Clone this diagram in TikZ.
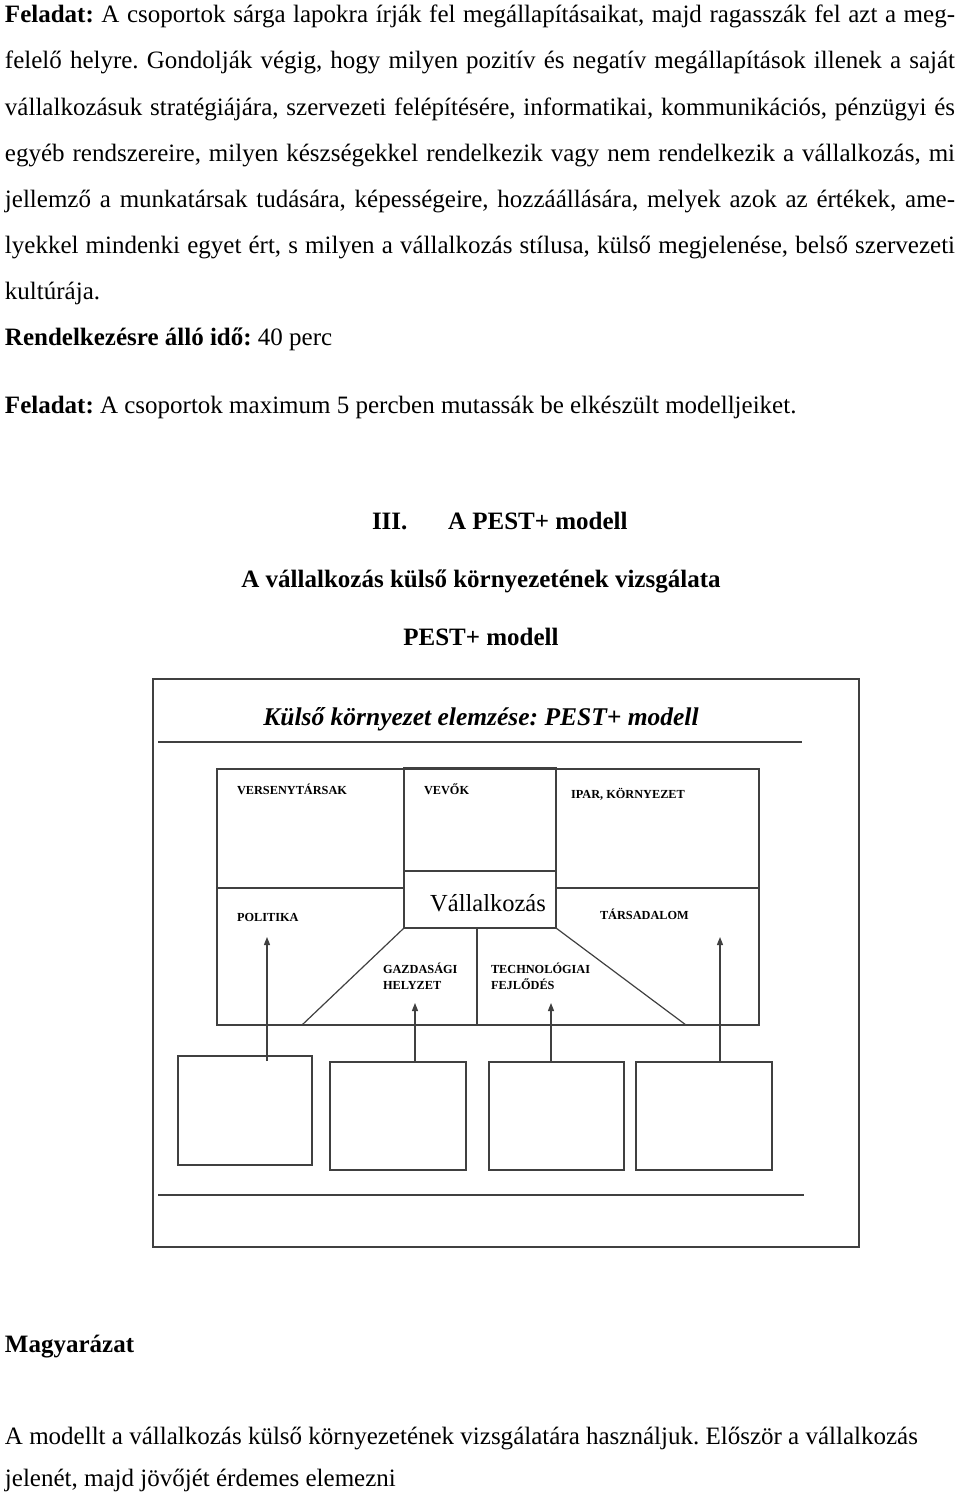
\documentclass[tikz,border=0pt]{standalone}
\usepackage{fontspec}
\setmainfont{Liberation Serif}
\usetikzlibrary{arrows.meta}
\frenchspacing
\tikzset{
  txt/.style={anchor=base west, inner sep=0pt, outer sep=0pt, font=\fontsize{25}{29}\selectfont},
  ctr/.style={anchor=base, inner sep=0pt, outer sep=0pt, font=\fontsize{25}{29}\selectfont\bfseries},
  lbl/.style={anchor=base west, inner sep=0pt, outer sep=0pt, font=\fontsize{12.3}{14}\selectfont\bfseries},
  ln/.style={draw=black!75, line width=1.2pt},
  cell/.style={ln, inner sep=0pt, outer sep=0pt, anchor=north west},
  arr/.style={ln, -{Triangle[length=8pt,width=6pt]}},
}
\newcommand{\jl}[1]{\makebox[950pt][s]{#1}}
\begin{document}
\begin{tikzpicture}[x=1pt,y=-1pt]
\useasboundingbox (0,0) rectangle (960,1496);
% top text
\node[txt] (t1) at (5,23) {\jl{\textbf{Feladat:} A csoportok sárga lapokra írják fel megállapításaikat, majd ragasszák fel azt a meg-}};
\node[txt] (t2) at (5,69) {\jl{felelő helyre. Gondolják végig, hogy milyen pozitív és negatív megállapítások illenek a saját}};
\node[txt] (t3) at (5,115) {\jl{vállalkozásuk stratégiájára, szervezeti felépítésére, informatikai, kommunikációs, pénzügyi és}};
\node[txt] (t4) at (5,161) {\jl{egyéb rendszereire, milyen készségekkel rendelkezik vagy nem rendelkezik a vállalkozás, mi}};
\node[txt] (t5) at (5,207) {\jl{jellemző a munkatársak tudására, képességeire, hozzáállására, melyek azok az értékek, ame-}};
\node[txt] (t6) at (5,253) {\jl{lyekkel mindenki egyet ért, s milyen a vállalkozás stílusa, külső megjelenése, belső szervezeti}};
\node[txt] (t7) at (5,299) {kultúrája.};
\node[txt] (t8) at (5,345) {\textbf{Rendelkezésre álló idő:} 40 perc};
\node[txt] (t9) at (5,413) {\textbf{Feladat:} A csoportok maximum 5 percben mutassák be elkészült modelljeiket.};
% headings
\node[ctr, anchor=base west] (h0) at (372,529) {III.};
\node[ctr, anchor=base west] (h1) at (448,529) {A PEST+ modell};
\node[ctr] (h2) at (481,587) {A vállalkozás külső környezetének vizsgálata};
\node[ctr] (h3) at (481,645) {PEST+ modell};
% frame
\node[cell, minimum width=706pt, minimum height=568pt] (frame) at (153,679) {};
\node[anchor=base, inner sep=0pt, font=\fontsize{25.5}{29}\selectfont\bfseries\itshape] (title) at (481,725) {Külső környezet elemzése: PEST+ modell};
\coordinate (l1a) at (158,742);
\coordinate (l1b) at (802,742);
\draw[ln] (l1a) -- (l1b);
% grid
\node[cell, minimum width=542pt, minimum height=256pt] (grid) at (217,769) {};
\node[cell, minimum width=152pt, minimum height=103pt] (vevo) at (404,768) {};
\node[cell, minimum width=152pt, minimum height=57pt] (vall) at (404,871) {};
\coordinate (r1a) at (217,888);
\coordinate (r1b) at (759,888);
\draw[ln] (r1a) -- (vall.west |- r1a);
\draw[ln] (vall.east |- r1b) -- (r1b);
\coordinate (tl) at (302,1025);
\coordinate (tr) at (686,1025);
\coordinate (dv) at (477,1025);
\draw[ln] (vall.south west) -- (tl);
\draw[ln] (vall.south east) -- (tr);
\draw[ln] (vall.south -| dv) -- (dv);
\node[anchor=base, inner sep=0pt, font=\fontsize{24.5}{28}\selectfont] (vtxt) at (488,911) {Vállalkozás};
\node[lbl] (versen) at (237,794) {VERSENYTÁRSAK};
\node[lbl] (vevok) at (424,794) {VEVŐK};
\node[lbl] (ipar) at (571,798) {IPAR, KÖRNYEZET};
\node[lbl] (pol) at (237,921) {POLITIKA};
\node[lbl] (tars) at (600,919) {TÁRSADALOM};
\node[lbl, align=left, anchor=north west, font=\fontsize{12.3}{16}\selectfont\bfseries] (gazd) at (383,963) {GAZDASÁGI\\HELYZET};
\node[lbl, align=left, anchor=north west, font=\fontsize{12.3}{16}\selectfont\bfseries] (tech) at (491,963) {TECHNOLÓGIAI\\FEJLŐDÉS};
% lower boxes
\node[cell, minimum width=134pt, minimum height=109pt] (b1) at (178,1056) {};
\node[cell, minimum width=136pt, minimum height=108pt] (b2) at (330,1062) {};
\node[cell, minimum width=135pt, minimum height=108pt] (b3) at (489,1062) {};
\node[cell, minimum width=136pt, minimum height=108pt] (b4) at (636,1062) {};
\coordinate (p1) at (267,937);
\coordinate (p2) at (415,1003);
\coordinate (p3) at (551,1003);
\coordinate (p4) at (720,937);
\coordinate (p1s) at (267,1061);
\draw[arr] (p1s) -- (p1);
\draw[arr] (b2.north -| p2) -- (p2);
\draw[arr] (b3.north -| p3) -- (p3);
\draw[arr] (b4.north -| p4) -- (p4);
\coordinate (l2a) at (158,1195);
\coordinate (l2b) at (804,1195);
\draw[ln] (l2a) -- (l2b);
% bottom text
\node[txt, font=\fontsize{25}{29}\selectfont\bfseries] (magy) at (5,1352) {Magyarázat};
\node[txt] (m1) at (5,1444) {A modellt a vállalkozás külső környezetének vizsgálatára használjuk. Először a vállalkozás};
\node[txt] (m2) at (5,1486) {jelenét, majd jövőjét érdemes elemezni};
\end{tikzpicture}
\end{document}
